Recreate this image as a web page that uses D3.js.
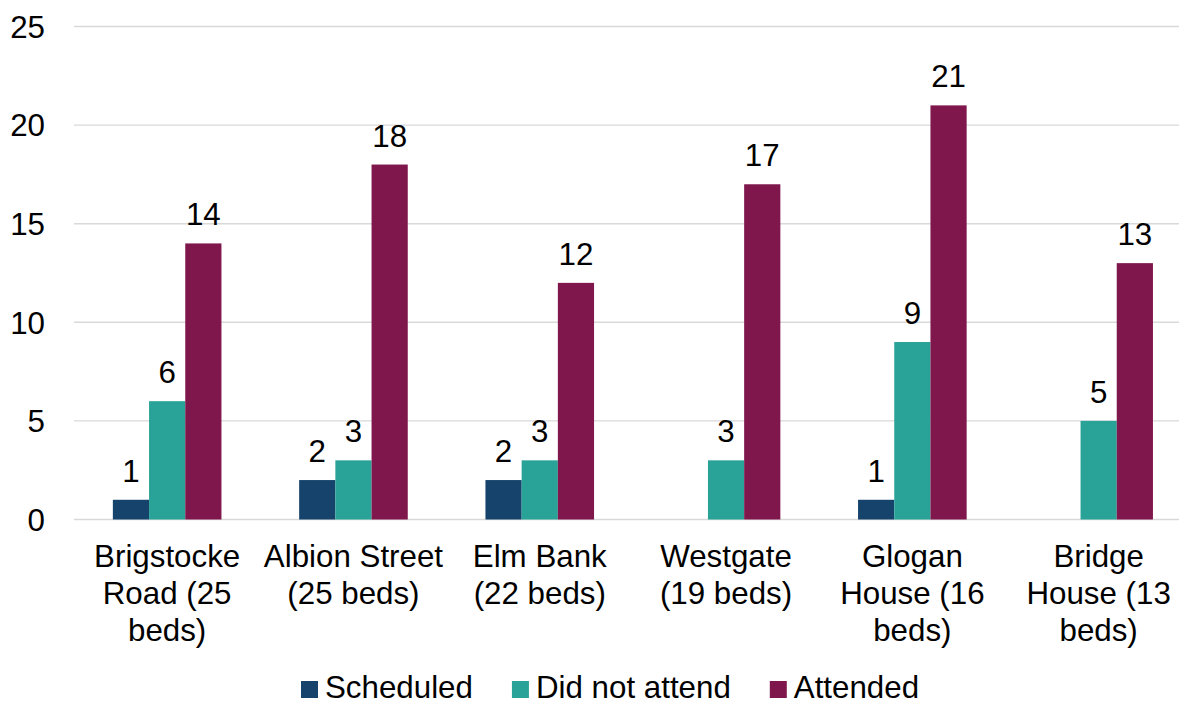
<!DOCTYPE html>
<html>
<head>
<meta charset="utf-8">
<script src="https://cdn.jsdelivr.net/npm/d3@7"></script>
<style>
  html, body { margin: 0; padding: 0; background: #fff; }
  svg { display: block; font-family: "Liberation Sans", Arial, sans-serif; }
</style>
</head>
<body>
<svg id="chart" width="1179" height="704"></svg>
<script>
// Units and their bed counts; "\n" marks where each axis label wraps
const categories = [
  "Brigstocke\nRoad (25\nbeds)",
  "Albion Street\n(25 beds)",
  "Elm Bank\n(22 beds)",
  "Westgate\n(19 beds)",
  "Glogan\nHouse (16\nbeds)",
  "Bridge\nHouse (13\nbeds)"
];
const seriesNames = ["Scheduled", "Did not attend", "Attended"];
const scheduled    = [1, 2, 2, null, 1, null];
const didNotAttend = [6, 3, 3, 3, 9, 5];
const attended     = [14, 18, 12, 17, 21, 13];
const yTicks = [0, 5, 10, 15, 20, 25];
const colors = ["#16436b", "#29a398", "#7f174d"];

const seriesValues = [scheduled, didNotAttend, attended];

const svg = d3.select("#chart");
const fontSize = 31.3;

// Plot geometry
const left = 74, step = 186.3;
const x0 = d3.scaleBand()
  .domain(categories)
  .range([left, left + step * categories.length])
  .paddingInner(0).paddingOuter(0);

const groupWidth = 108.6;
const x1 = d3.scaleBand()
  .domain(seriesNames)
  .range([(step - groupWidth) / 2, (step + groupWidth) / 2])
  .padding(0);

const y = d3.scaleLinear().domain([0, 25]).range([519.5, 26.5]);

// Horizontal gridlines
svg.append("g")
  .selectAll("line")
  .data(yTicks)
  .join("line")
  .attr("x1", left)
  .attr("x2", 1179)
  .attr("y1", d => y(d))
  .attr("y2", d => y(d))
  .attr("stroke", "#d9d9d9")
  .attr("stroke-width", 1.4);

// Y axis labels
svg.append("g")
  .selectAll("text")
  .data(yTicks)
  .join("text")
  .attr("x", 45)
  .attr("y", d => y(d))
  .attr("dy", "0.36em")
  .attr("text-anchor", "end")
  .attr("font-size", fontSize)
  .attr("fill", "#000")
  .text(d => d);

// Bars and value labels
const flat = [];
categories.forEach((c, i) => {
  seriesNames.forEach((s, j) => {
    flat.push({ cat: c, series: s, value: seriesValues[j][i], color: colors[j] });
  });
});
const present = flat.filter(d => d.value !== null);

svg.append("g")
  .selectAll("rect")
  .data(present)
  .join("rect")
  .attr("x", d => x0(d.cat) + x1(d.series))
  .attr("width", x1.bandwidth())
  .attr("y", d => y(d.value))
  .attr("height", d => y(0) - y(d.value))
  .attr("fill", d => d.color);

svg.append("g")
  .selectAll("text")
  .data(present)
  .join("text")
  .attr("x", d => x0(d.cat) + x1(d.series) + x1.bandwidth() / 2)
  .attr("y", d => y(d.value) - 18)
  .attr("text-anchor", "middle")
  .attr("font-size", fontSize)
  .attr("fill", "#000")
  .text(d => d.value);

// Category labels (wrapped)
const catG = svg.append("g")
  .selectAll("text")
  .data(categories)
  .join("text")
  .attr("x", d => x0(d) + step / 2)
  .attr("y", 566.5)
  .attr("text-anchor", "middle")
  .attr("font-size", fontSize)
  .attr("fill", "#000");
catG.each(function(d) {
  const t = d3.select(this);
  d.split("\n").forEach((line, k) => {
    t.append("tspan")
      .attr("x", x0(d) + step / 2)
      .attr("y", 566.5 + k * 37)
      .text(line);
  });
});

// Legend
const legend = svg.append("g");
let lx = 301;
seriesNames.forEach((name, j) => {
  legend.append("rect")
    .attr("x", lx)
    .attr("y", 681)
    .attr("width", 17)
    .attr("height", 17)
    .attr("fill", colors[j]);
  const t = legend.append("text")
    .attr("x", lx + 24)
    .attr("y", 697.5)
    .attr("font-size", fontSize)
    .attr("fill", "#000")
    .text(name);
  lx += 24 + t.node().getComputedTextLength() + 39;
});
</script>
</body>
</html>
